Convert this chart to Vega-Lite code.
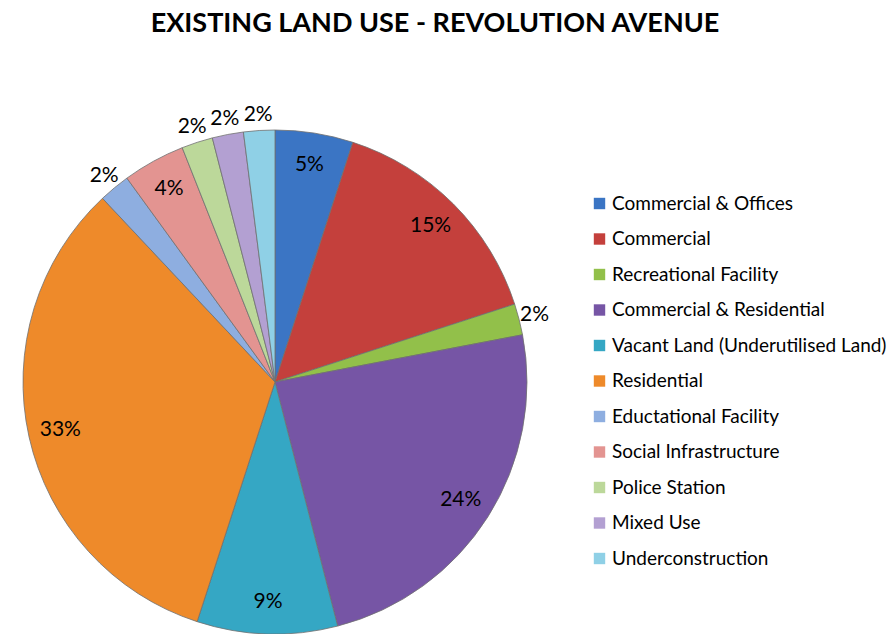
{
  "$schema": "https://vega.github.io/schema/vega-lite/v6.json",
  "autosize": "none",
  "width": 550,
  "height": 504,
  "padding": {"top": 130, "left": 0, "right": 341, "bottom": 0},
  "background": "white",
  "title": {
    "text": "EXISTING LAND USE - REVOLUTION AVENUE",
    "font": "Lato",
    "fontSize": 27,
    "fontWeight": "bold",
    "color": "black",
    "frame": "group",
    "anchor": "middle",
    "dx": 160,
    "offset": 66
  },
  "data": {
    "values": [
      {"cat": "Commercial & Offices", "v": 5},
      {"cat": "Commercial", "v": 15},
      {"cat": "Recreational Facility", "v": 2},
      {"cat": "Commercial & Residential", "v": 24},
      {"cat": "Vacant Land (Underutilised Land)", "v": 9},
      {"cat": "Residential", "v": 33},
      {"cat": "Eductational Facility", "v": 2},
      {"cat": "Social Infrastructure", "v": 4},
      {"cat": "Police Station", "v": 2},
      {"cat": "Mixed Use", "v": 2},
      {"cat": "Underconstruction", "v": 2}
    ]
  },
  "transform": [
    {"window": [{"op": "row_number", "as": "idx"}]},
    {"calculate": "datum.v + '%'", "as": "label"}
  ],
  "encoding": {
    "theta": {"field": "v", "type": "quantitative", "stack": true},
    "order": {"field": "idx", "type": "quantitative"}
  },
  "layer": [
    {
      "mark": {"type": "arc", "outerRadius": 252, "stroke": "#707070", "strokeWidth": 0.8},
      "encoding": {
        "color": {
          "field": "cat",
          "type": "nominal",
          "scale": {
            "domain": ["Commercial & Offices", "Commercial", "Recreational Facility", "Commercial & Residential", "Vacant Land (Underutilised Land)", "Residential", "Eductational Facility", "Social Infrastructure", "Police Station", "Mixed Use", "Underconstruction"],
            "range": ["#3b75c4", "#c4403c", "#92c04a", "#7655a5", "#35a7c4", "#ee8a2a", "#8eaee0", "#e39491", "#bcd89a", "#b3a0d2", "#8fd0e6"]
          },
          "legend": {
            "title": null,
            "orient": "none",
            "legendX": 590,
            "legendY": 64,
            "padding": 0,
            "symbolType": "square",
            "symbolSize": 130,
            "symbolStrokeWidth": 0,
            "symbolOpacity": 1,
            "labelFont": "Lato",
            "labelFontSize": 19,
            "labelColor": "black",
            "labelOffset": 3,
            "rowPadding": 15.5,
            "labelLimit": 400
          }
        }
      }
    },
    {
      "mark": {"type": "text", "radius": 220, "font": "Lato", "fontSize": 21, "fill": "black"},
      "encoding": {
        "detail": {"field": "cat", "type": "nominal"},
        "text": {"condition": {"test": "datum.v >= 4", "field": "label"}, "value": ""}
      }
    },
    {
      "mark": {"type": "text", "radius": 268, "font": "Lato", "fontSize": 21, "fill": "black"},
      "encoding": {
        "detail": {"field": "cat", "type": "nominal"},
        "text": {"condition": {"test": "datum.v < 4", "field": "label"}, "value": ""}
      }
    }
  ]
}
